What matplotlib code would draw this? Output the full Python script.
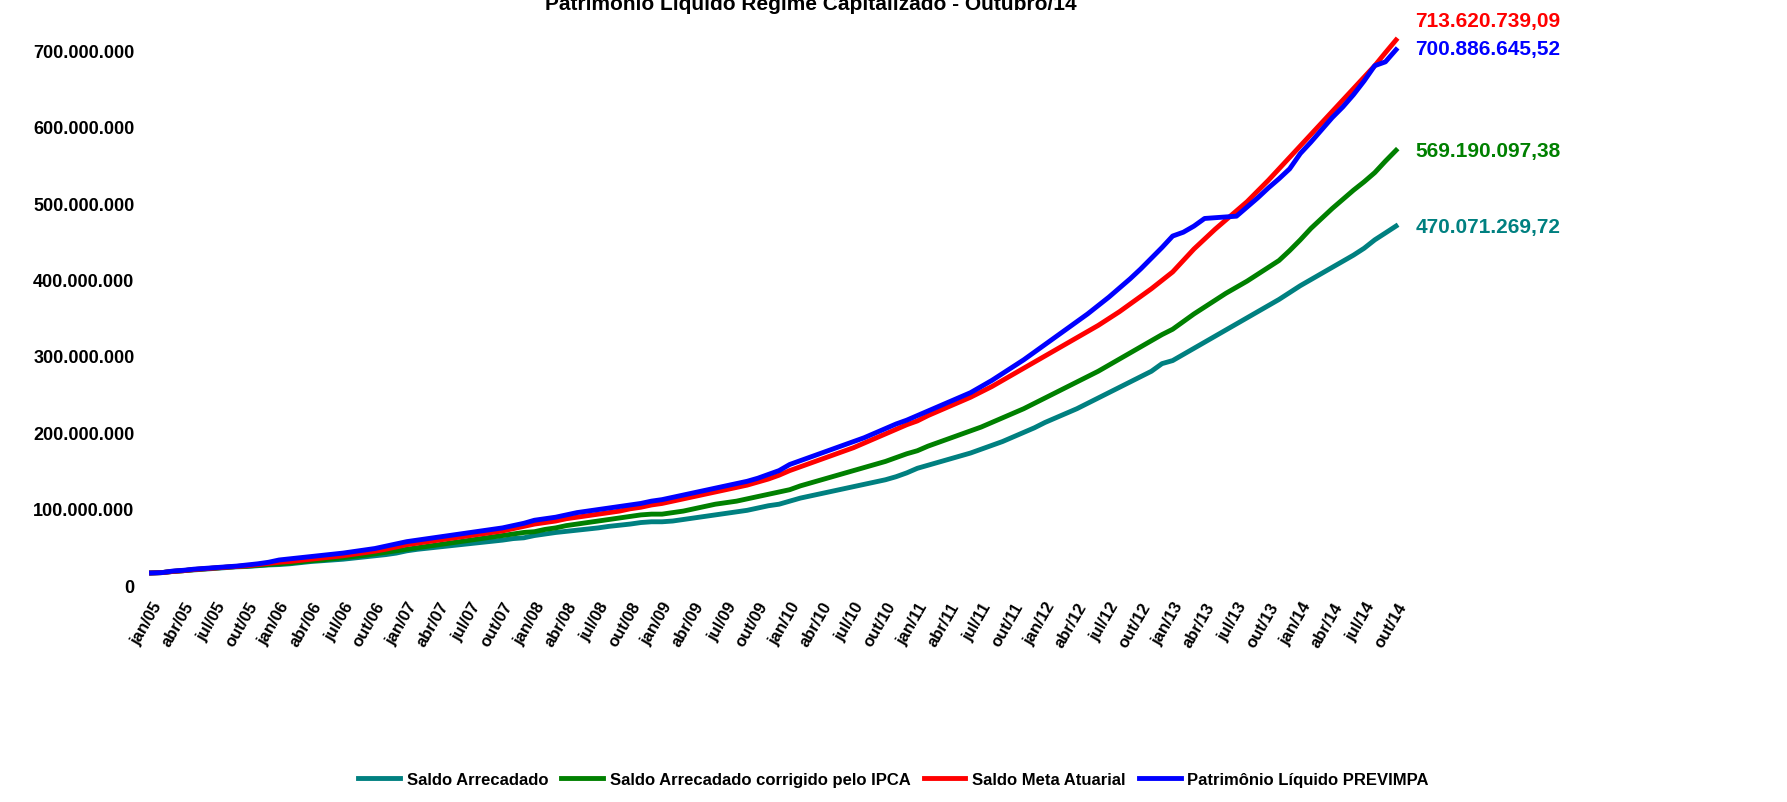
import matplotlib
matplotlib.use("Agg")
import matplotlib.pyplot as plt

months = ["jan","fev","mar","abr","mai","jun","jul","ago","set","out","nov","dez"]
labels = [f"{m}/{y:02d}" for y in range(5, 15) for m in months][:118]

teal = [16,16.5,18,19,20,21,22,23,24,24.5,25.5,26.5,
        27,28,29.5,31,32,33,34,35.5,37,38.5,40,42,
        45,47,48.5,50,51.5,53,54.5,56,57.5,59,61,62,
        65,67,69,70.5,72,73.5,75,77,78.5,80,82,83,
        83,84,86,88,90,92,94,96,98,101,104,106,
        110,114,117,120,123,126,129,132,135,138,142,147,
        153,157,161,165,169,173,178,183,188,194,200,206,
        213,219,225,231,238,245,252,259,266,273,280,290,
        294,302,310,318,326,334,342,350,358,366,374,383,
        392,400,408,416,424,432,441,452,461,470.071]
green = [16,16.5,18,19,20.5,21.5,22.5,23.5,24.5,25,26,27,
         28,29,30.5,32,33,34.5,36,37.5,39,41,43,45,
         47,49,51,53,55,57,59,61,63,65,67,69,
         70,73,75,78,80,82,84,86,88,90,92,93,
         93,95,97,100,103,106,108,110,113,116,119,122,
         125,130,134,138,142,146,150,154,158,162,167,172,
         176,182,187,192,197,202,207,213,219,225,231,238,
         245,252,259,266,273,280,288,296,304,312,320,328,
         335,345,355,364,373,382,390,398,407,416,425,438,
         452,467,480,493,505,517,528,540,555,569.190]
red = [16,16.5,18,19,20.5,21.5,22.5,23.5,24.5,25.5,27,28.5,
       30,31,32.5,34,35.5,37,38.5,40.5,42.5,44.5,47,50,
       53,55,57,59,61,63,65,67,69,71,74,77,
       80,82,84,87,89,91,93,95,97,100,102,105,
       107,110,113,116,119,122,125,128,131,135,139,144,
       150,155,160,165,170,175,180,186,192,198,204,210,
       215,222,228,234,240,246,253,260,268,276,284,292,
       300,308,316,324,332,340,349,358,368,378,388,399,
       410,425,440,453,466,478,490,502,516,530,545,560,
       575,590,605,620,635,650,665,680,697,713.621]
blue = [16,16.5,18.5,19.5,21,22,23,24,25,26.5,28,30,
        33,34.5,36,37.5,39,40.5,42,44,46,48,51,54,
        57,59,61,63,65,67,69,71,73,75,78,81,
        85,87,89,92,95,97,99,101,103,105,107,110,
        112,115,118,121,124,127,130,133,136,140,145,150,
        158,163,168,173,178,183,188,193,199,205,211,216,
        222,228,234,240,246,252,260,268,277,286,295,305,
        315,325,335,345,355,366,377,389,401,414,428,442,
        457,462,470,480,481,482,483,495,507,520,532,545,
        565,580,596,612,626,642,660,680,685,700.887]

series = [("Saldo Arrecadado", teal, "#008080", "470.071.269,72"),
          ("Saldo Arrecadado corrigido pelo IPCA", green, "#008000", "569.190.097,38"),
          ("Saldo Meta Atuarial", red, "#FF0000", "713.620.739,09"),
          ("Patrimônio Líquido PREVIMPA", blue, "#0000FF", "700.886.645,52")]

plt.rcParams['font.family'] = ['Liberation Sans', 'DejaVu Sans']
fig = plt.figure(figsize=(17.87, 8.03), dpi=100)
ax = fig.add_axes([0.083, 0.270, 0.700, 0.666])
x = list(range(len(labels)))
for name, vals, col, lab in series:
    ax.plot(x, vals, color=col, lw=3.5, label=name, clip_on=False)
offs = {"#FF0000": 25, "#0000FF": 2, "#008000": 0, "#008080": 0}
for name, vals, col, lab in series:
    ax.text(len(x) + 0.8, vals[-1] + offs[col], lab, color=col, fontsize=15,
            fontweight='bold', va='center', ha='left')
ax.set_xlim(-0.3, len(x) - 1 + 0.3)
ax.set_ylim(0, 700)
ax.set_yticks(range(0, 800, 100))
ax.set_yticklabels(["0" if v == 0 else f"{v:,}.000.000".replace(",", ".") for v in range(0, 800, 100)],
                   fontsize=13, fontweight='bold')
ax.set_xticks(x[::3])
ax.set_xticklabels(labels[::3], rotation=60, ha='right', rotation_mode='anchor',
                   fontsize=12, fontweight='bold')
for s in ax.spines.values():
    s.set_visible(False)
ax.tick_params(length=0, pad=10)
fig.text(0.454, 0.995, "Patrimônio Líquido Regime Capitalizado - Outubro/14",
         ha='center', va='center', fontsize=15, fontweight='bold')
fig.legend(loc='lower center', bbox_to_anchor=(0.5, 0.0), ncol=4, frameon=False,
           prop={'weight': 'bold', 'size': 12}, handlelength=2.5, columnspacing=0.8,
           handletextpad=0.4)
fig.savefig("out.png", dpi=100)
